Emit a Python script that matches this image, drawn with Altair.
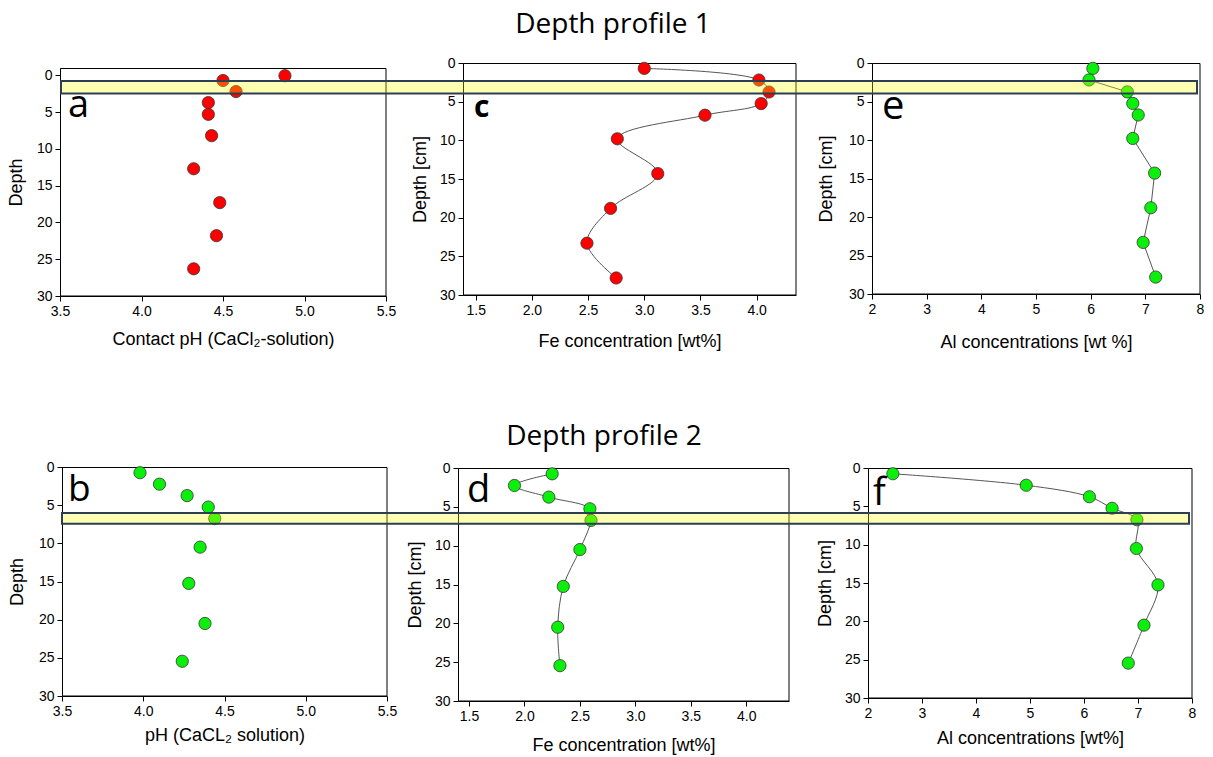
import altair as alt
import pandas as pd

W, H = 1213, 757

# ---- Depth profile 1 ----
ph1_depth = [0.05, 0.7, 2.2, 3.7, 5.3, 8.2, 12.7, 17.3, 21.8, 26.3]
ph1 = [4.88, 4.50, 4.58, 4.41, 4.41, 4.43, 4.32, 4.48, 4.46, 4.32]
p1_depth = [0.7, 2.2, 3.75, 5.25, 6.75, 9.8, 14.3, 18.8, 23.3, 27.8]
fe1 = [3.00, 4.02, 4.11, 4.04, 3.54, 2.76, 3.12, 2.70, 2.49, 2.75]
al1 = [6.04, 5.97, 6.67, 6.77, 6.87, 6.77, 7.17, 7.10, 6.96, 7.19]

# ---- Depth profile 2 ----
p2_depth = [0.75, 2.25, 3.75, 5.25, 6.75, 10.5, 15.25, 20.5, 25.45]
ph2 = [3.98, 4.10, 4.27, 4.40, 4.44, 4.35, 4.28, 4.38, 4.24]
fe2 = [2.25, 1.91, 2.22, 2.59, 2.60, 2.50, 2.35, 2.30, 2.32]
al2 = [2.46, 4.93, 6.10, 6.52, 6.98, 6.97, 7.37, 7.11, 6.82]

# highlighted depth intervals (in the depth units of the right-hand panels)
band1 = (2.35, 3.95)
band2 = (5.88, 7.28)

ph_ticks = [3.5, 4.0, 4.5, 5.0, 5.5]
fe_ticks = [1.5, 2.0, 2.5, 3.0, 3.5, 4.0]
al_ticks = [2, 3, 4, 5, 6, 7, 8]
depth_ticks = [0, 5, 10, 15, 20, 25, 30]

RED = "#FF0000"
GREEN = "#0AF00A"
LINE = "#555555"
PT_STROKE = "#333333"


def panel(xs, ys, x_dom, x_rng, y_dom, y_rng, x_ticks, x_fmt, x_title, y_title,
          color, line_interp=None, xpad=12, ypad=11, band=None, band_x=None):
    df = pd.DataFrame({"value": xs, "depth": ys})
    xscale = alt.Scale(domain=x_dom, range=x_rng, nice=False, zero=False)
    yscale = alt.Scale(domain=y_dom, range=y_rng, nice=False, zero=False)
    xaxis = alt.Axis(orient="bottom", offset=y_rng[1] - H, values=x_ticks,
                     format=x_fmt, title=x_title, titlePadding=xpad)
    yaxis = alt.Axis(orient="left", offset=-x_rng[0], values=depth_ticks,
                     format="d", title=y_title, titlePadding=ypad)

    frame_df = pd.DataFrame({"x0": [x_dom[0]], "x1": [x_dom[1]],
                             "y0": [y_dom[0]], "y1": [y_dom[1]]})
    frame = alt.Chart(frame_df).mark_rect(
        fillOpacity=0, stroke="black", strokeWidth=1, xOffset=0.5, yOffset=0.5
    ).encode(
        x=alt.X("x0:Q", scale=xscale, axis=xaxis),
        x2="x1:Q",
        y=alt.Y("y0:Q", scale=yscale, axis=yaxis),
        y2="y1:Q",
    )
    layers = [frame]
    if line_interp:
        layers.append(
            alt.Chart(df).mark_line(color=LINE, strokeWidth=1, interpolate=line_interp)
            .encode(
                x=alt.X("value:Q", scale=xscale, axis=xaxis),
                y=alt.Y("depth:Q", scale=yscale, axis=yaxis),
                order="depth:Q",
            )
        )
    layers.append(
        alt.Chart(df).mark_circle(size=150, color=color, opacity=1,
                                  stroke=PT_STROKE, strokeWidth=0.8)
        .encode(
            x=alt.X("value:Q", scale=xscale, axis=xaxis),
            y=alt.Y("depth:Q", scale=yscale, axis=yaxis),
        )
    )
    if band is not None:
        bdf = pd.DataFrame({"top": [band[0]], "bottom": [band[1]]})
        layers.append(
            alt.Chart(bdf).mark_rect(fill="#FFFF00", fillOpacity=0.3,
                                     stroke="#2C3E55", strokeWidth=2)
            .encode(
                x=alt.value(band_x[0]), x2=alt.value(band_x[1]),
                y=alt.Y("top:Q", scale=yscale, axis=yaxis),
                y2="bottom:Q",
            )
        )
    return alt.layer(*layers)


def label(text, x, y, size, weight="normal", font="Open Sans", align="left"):
    return alt.Chart(pd.DataFrame({"t": [text]})).mark_text(
        font=font, fontSize=size, fontWeight=weight, align=align,
        baseline="alphabetic", color="black"
    ).encode(x=alt.value(x), y=alt.value(y), text="t:N")


pa = panel(ph1, ph1_depth, [3.5, 5.5], [60, 386], [-1, 30], [68, 296],
           ph_ticks, ".1f", "Contact pH (CaCl₂-solution)", "Depth", RED,
           xpad=12, ypad=11)
pc = panel(fe1, p1_depth, [1.387, 4.35], [463, 796], [0, 30], [63, 295],
           fe_ticks, ".1f", "Fe concentration [wt%]", "Depth [cm]", RED,
           line_interp="catmull-rom", xpad=15, ypad=10)
pe = panel(al1, p1_depth, [2, 8], [872, 1200], [0, 30], [63, 294],
           al_ticks, "d", "Al concentrations [wt %]", "Depth [cm]", GREEN,
           line_interp="linear", xpad=17, ypad=13, band=band1, band_x=(61, 1197))

pb = panel(ph2, p2_depth, [3.5, 5.5], [62, 387], [0, 30], [467, 696],
           ph_ticks, ".1f", "pH (CaCL₂ solution)", "Depth", GREEN,
           xpad=8, ypad=12)
pd_ = panel(fe2, p2_depth, [1.401, 4.385], [458, 789], [0, 30], [468, 701],
            fe_ticks, ".1f", "Fe concentration [wt%]", "Depth [cm]", GREEN,
            line_interp="catmull-rom", xpad=13, ypad=10)
pf = panel(al2, p2_depth, [2, 8], [868, 1192], [0, 30], [468, 698],
           al_ticks, "d", "Al concentrations [wt%]", "Depth [cm]", GREEN,
           line_interp="catmull-rom", xpad=9, ypad=10, band=band2, band_x=(62, 1189))

texts = [
    label("Depth profile 1", 613, 33, 28, align="center"),
    label("Depth profile 2", 604, 445, 28, align="center"),
    label("a", 68, 117, 38),
    label("c", 474, 117, 30, weight="bold"),
    label("e", 882, 119, 40),
    label("b", 68, 501, 37),
    label("d", 467, 502, 38),
    label("f", 873, 505, 38),
]

chart = alt.layer(pa, pc, pe, pb, pd_, pf, *texts).resolve_scale(
    x="independent", y="independent"
).properties(
    width=W, height=H, padding=0,
    autosize=alt.AutoSizeParams(type="none"),
).configure_view(stroke=None).configure_axis(
    grid=False,
    labelFont="Liberation Sans", labelFontSize=14, labelColor="black",
    labelPadding=3,
    titleFont="Liberation Sans", titleFontSize=18, titleFontWeight="normal",
    titleColor="black",
    domainColor="black", domainWidth=1, tickColor="black", tickSize=5, tickWidth=1,
    labelFlush=False, labelOverlap=False,
)

chart.save("out.html", embed_options={"renderer": "svg", "actions": False})
